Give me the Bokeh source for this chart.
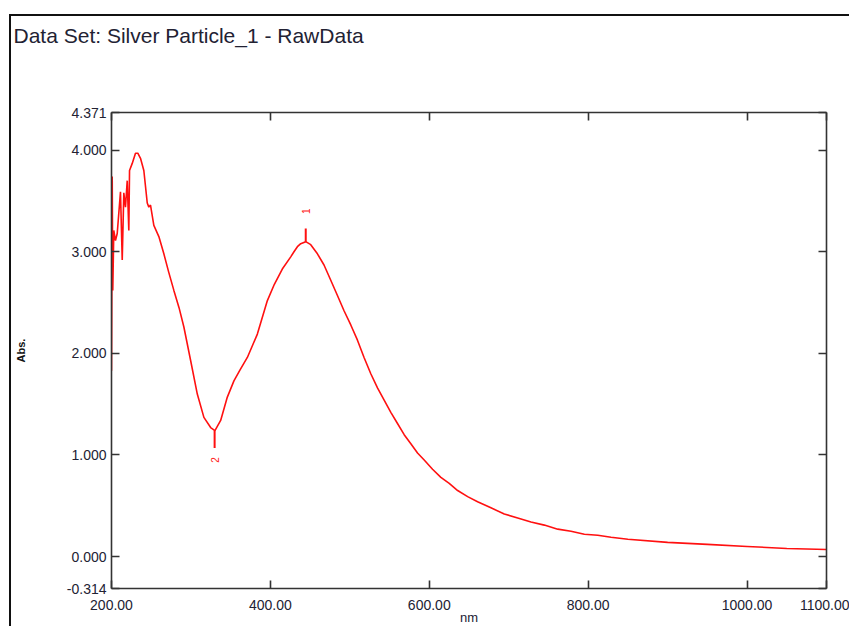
import numpy as np
from bokeh.plotting import figure
from bokeh.models import Range1d, FixedTicker, PrintfTickFormatter, LinearAxis, ColumnDataSource
from bokeh.embed import file_html
from bokeh.resources import INLINE
from bokeh.core.properties import value

# ---- data ----
wavelength_nm = [200.0, 200.9, 201.6, 202.9, 205.0, 207.2, 211.3, 213.5, 215.5, 217.6,
                 219.8, 221.8, 222.7, 226.1, 230.2, 233.1, 236.5, 240.7, 245.0, 247.0,
                 249.1, 253.3, 259.6, 265.9, 272.0, 278.5, 285.0, 291.1, 299.6, 308.0,
                 316.3, 324.8, 330.2, 337.4, 345.8, 354.1, 362.0, 371.0, 383.6, 396.2,
                 405.0, 415.0, 425.6, 429.7, 434.0, 438.2, 444.5, 450.8, 459.2, 467.5,
                 476.0, 484.4, 492.7, 501.2, 509.6, 517.9, 526.4, 534.8, 543.2, 551.6,
                 560.0, 568.4, 576.8, 585.2, 593.6, 604.1, 614.6, 625.1, 635.7, 648.3,
                 660.8, 677.6, 694.4, 711.3, 728.0, 744.8, 761.7, 778.4, 795.2, 812.1,
                 828.8, 850.0, 900.0, 950.0, 1000.0, 1050.0, 1100.0]
absorbance = [1.83, 3.74, 2.62, 3.21, 3.11, 3.18, 3.59, 2.92, 3.58, 3.44,
              3.70, 3.21, 3.80, 3.87, 3.97, 3.97, 3.92, 3.80, 3.48, 3.44,
              3.46, 3.26, 3.15, 2.98, 2.80, 2.62, 2.45, 2.26, 1.93, 1.60,
              1.37, 1.27, 1.24, 1.34, 1.57, 1.73, 1.84, 1.96, 2.19, 2.52,
              2.68, 2.83, 2.95, 3.00, 3.05, 3.08, 3.10, 3.07, 2.98, 2.87,
              2.72, 2.57, 2.42, 2.28, 2.13, 1.96, 1.80, 1.66, 1.54, 1.42,
              1.31, 1.20, 1.11, 1.02, 0.95, 0.86, 0.78, 0.72, 0.65, 0.59,
              0.54, 0.48, 0.42, 0.38, 0.34, 0.31, 0.27, 0.25, 0.22, 0.21,
              0.19, 0.17, 0.14, 0.12, 0.10, 0.08, 0.07]

peak_labels = ["1", "2"]
peak_nm = [444.5, 329.8]
peak_abs = [3.10, 1.24]
peak_tip_abs = [3.23, 1.07]
peak_label_abs = [3.40, 0.95]

x_ticks = [200, 400, 600, 800, 1000, 1100]
y_ticks = [-0.314, 0.0, 1.0, 2.0, 3.0, 4.0, 4.371]
x_min, x_max = 200, 1100
y_min, y_max = -0.314, 4.371

title_text = "Data Set: Silver Particle_1 - RawData"
x_label = "nm"
y_label = "Abs."

FONT = "Liberation Sans"
AXIS_COLOR = "#333333"
TEXT_COLOR = "#222233"

p = figure(width=840, height=612,
           x_range=Range1d(x_min, x_max), y_range=Range1d(y_min, y_max),
           output_backend="svg", toolbar_location=None,
           min_border_left=100, min_border_top=96, min_border_right=25, min_border_bottom=40)
p.styles = {"border-left": "2px solid #111111", "border-top": "2px solid #111111",
            "margin-top": "14px", "margin-left": "9px"}
p.xgrid.visible = False
p.ygrid.visible = False
p.outline_line_color = None
p.background_fill_color = "white"
p.border_fill_color = "white"

# two empty trailing lines lift the single visible title line towards the top
p.title.text = title_text + "\n\n"
p.title.text_font = FONT
p.title.text_font_size = "21px"
p.title.text_font_style = "normal"
p.title.text_line_height = 1.37
p.title.text_color = TEXT_COLOR
p.title.align = "left"
p.title.offset = -98
p.title.standoff = 5

xb = p.below[0]
yl = p.left[0]

for ax, ticks, fmt in ((xb, x_ticks, "%.2f"), (yl, y_ticks, "%.3f")):
    ax.ticker = FixedTicker(ticks=ticks)
    ax.formatter = PrintfTickFormatter(format=fmt)
    ax.axis_line_color = AXIS_COLOR
    ax.axis_line_width = 1.6
    ax.major_tick_line_color = AXIS_COLOR
    ax.major_tick_line_width = 1.6
    ax.major_tick_in = 8
    ax.major_tick_out = 0
    ax.minor_tick_in = 0
    ax.minor_tick_out = 0
    ax.major_label_text_font = FONT
    ax.major_label_text_font_size = "14px"
    ax.major_label_text_color = TEXT_COLOR

xb.major_label_standoff = 11
yl.major_label_standoff = 5
xb.axis_label = x_label
xb.axis_label_text_font = FONT
xb.axis_label_text_font_size = "13px"
xb.axis_label_text_font_style = "normal"
xb.axis_label_text_color = TEXT_COLOR
xb.axis_label_standoff = -3
yl.axis_label = y_label
yl.axis_label_text_font = FONT
yl.axis_label_text_font_size = "11px"
yl.axis_label_text_font_style = "bold"
yl.axis_label_text_color = "#111111"
yl.axis_label_standoff = 37

top_ax = LinearAxis(ticker=FixedTicker(ticks=x_ticks))
right_ax = LinearAxis(ticker=FixedTicker(ticks=y_ticks))
for ax in (top_ax, right_ax):
    ax.axis_line_color = AXIS_COLOR
    ax.axis_line_width = 1.6
    ax.major_tick_line_color = AXIS_COLOR
    ax.major_tick_line_width = 1.6
    ax.major_tick_in = 8
    ax.major_tick_out = 0
    ax.minor_tick_in = 0
    ax.minor_tick_out = 0
    ax.major_label_text_color = None
p.add_layout(top_ax, "above")
p.add_layout(right_ax, "right")

src = ColumnDataSource(dict(x=wavelength_nm, y=absorbance))
p.line("x", "y", source=src, line_color="#ff1010", line_width=1.6)

msrc = ColumnDataSource(dict(x=peak_nm, y0=peak_abs, y1=peak_tip_abs, ly=peak_label_abs, t=peak_labels))
p.segment(x0="x", y0="y0", x1="x", y1="y1", source=msrc, line_color="#ff1010", line_width=2)
p.text(x="x", y="ly", text="t", source=msrc, angle=np.pi / 2, text_align="center",
       text_baseline="middle", text_color="#ff2020", text_font=value(FONT),
       text_font_size="10px")

open("out.html", "w").write(file_html(p, INLINE))
